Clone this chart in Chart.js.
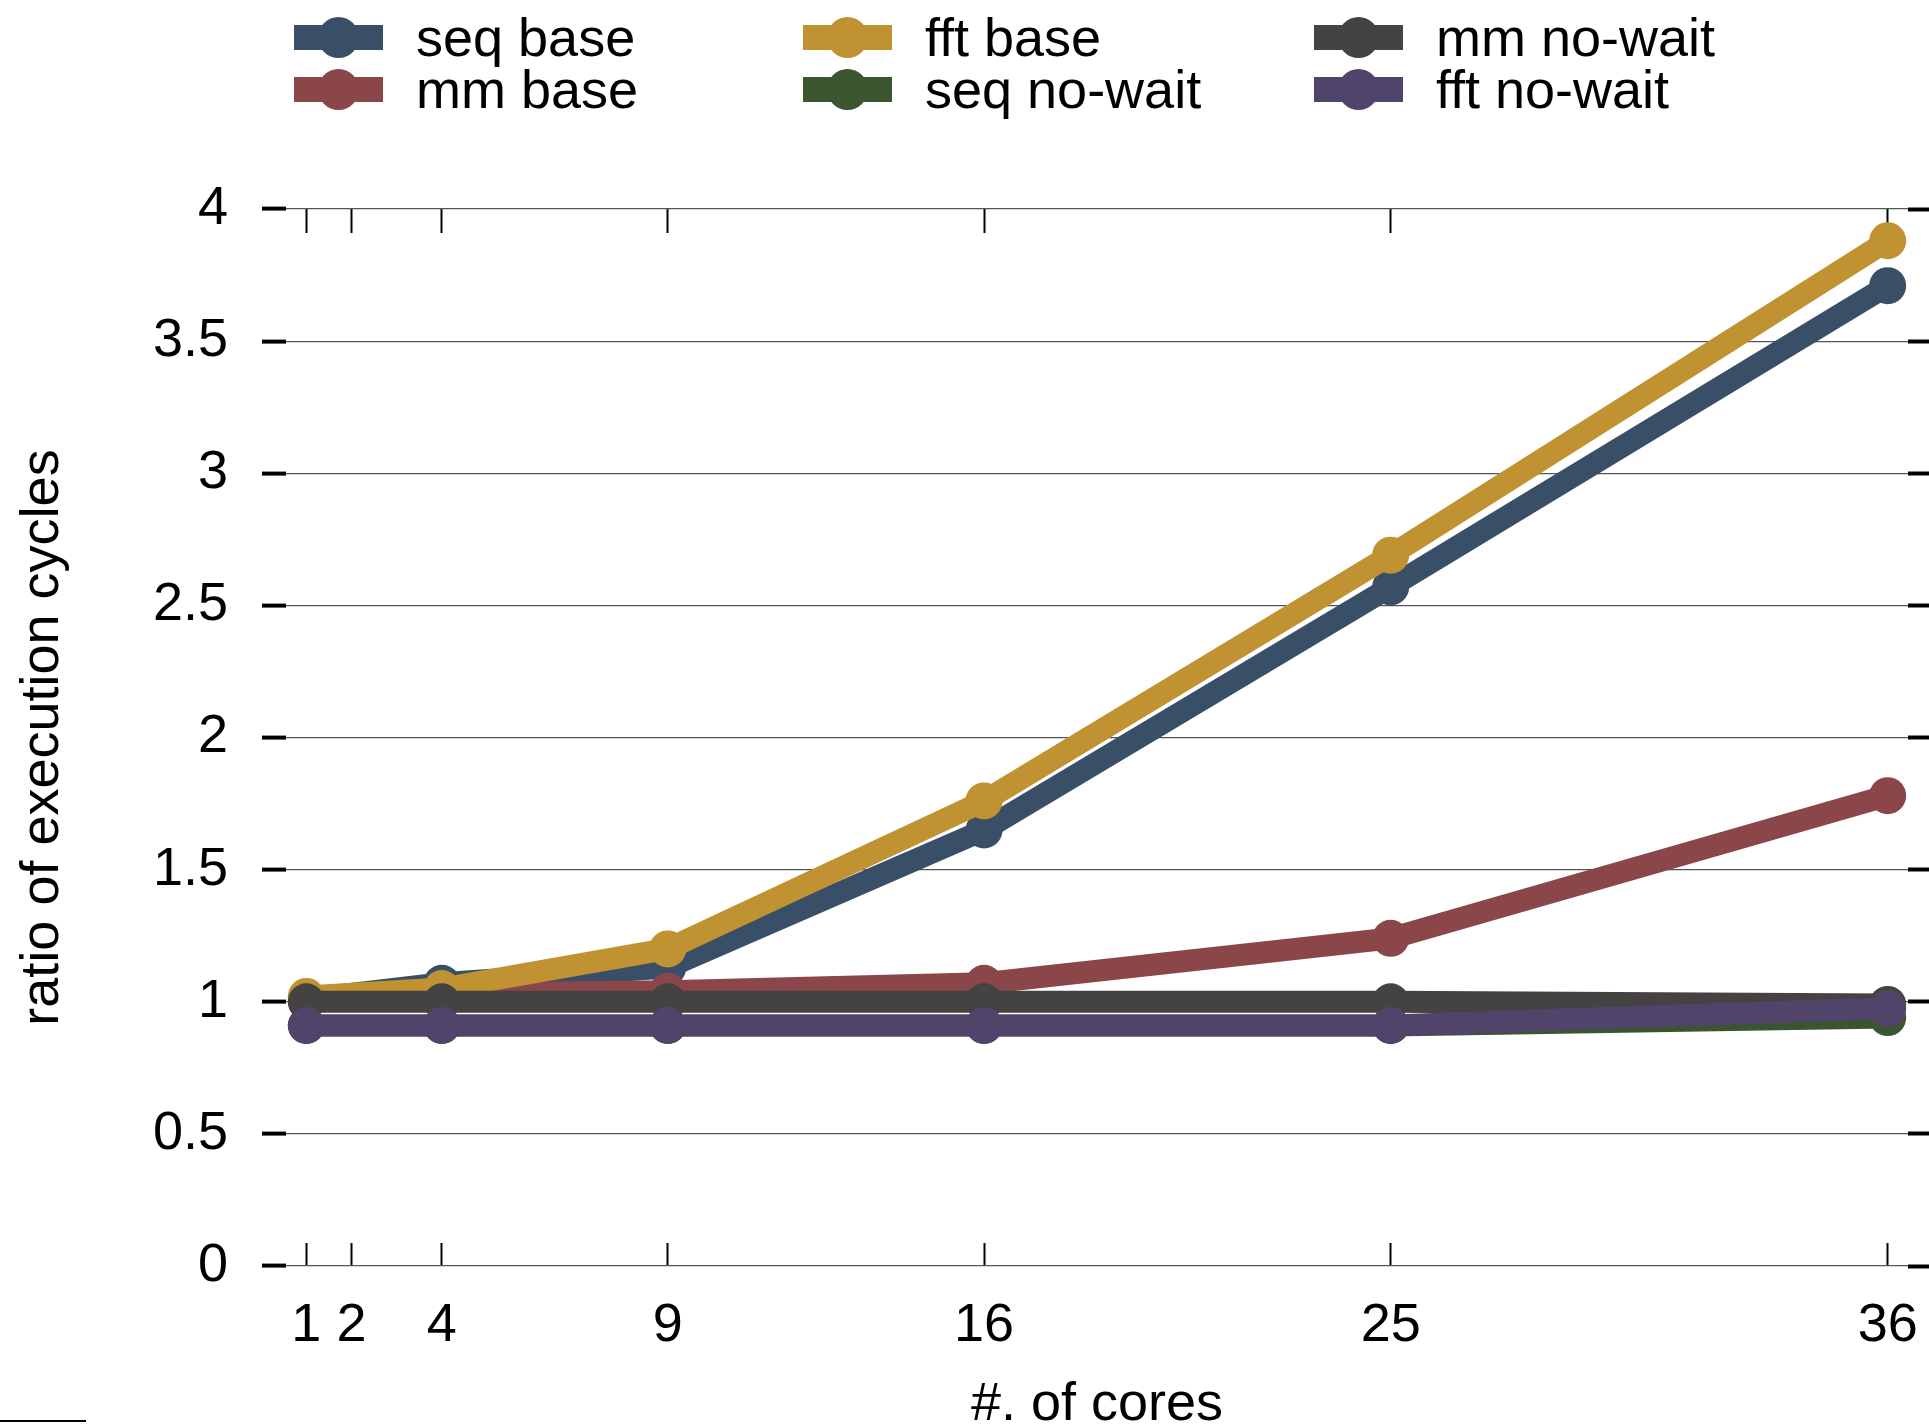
<!DOCTYPE html>
<html>
<head>
<meta charset="utf-8">
<script src="https://cdn.jsdelivr.net/npm/chart.js@4.4.1/dist/chart.umd.min.js"></script>
<style>
  html, body { margin: 0; padding: 0; background: #fff; overflow: hidden; }
  #wrap { position: relative; width: 1929px; height: 1424px; }
  #legend { position: absolute; left: 0; top: 0; width: 1929px; height: 120px;
            font-family: "Liberation Sans", Arial, sans-serif; font-size: 54px; color: #000; }
  .item { position: absolute; display: flex; align-items: center; height: 52px; }
  .sym { position: relative; width: 89px; height: 25px; flex: none; }
  .sym .bar { position: absolute; left: 0; top: 0; width: 89px; height: 25px; }
  .sym .dot { position: absolute; left: 24px; top: -8px; width: 41px; height: 41px; border-radius: 50%; }
  .lbl { margin-left: 33px; white-space: nowrap; position: relative; top: 0px; }
  #corner { position: absolute; left: 0; top: 1420px; width: 86px; height: 2px; background: #000; }
</style>
</head>
<body>
<div id="wrap">
  <canvas id="chart"></canvas>
  <div id="legend"></div>
  <div id="corner"></div>
</div>
<script>
// ─── Data ────────────────────────────────────────────────────────────
const coreCounts = [1, 4, 9, 16, 25, 36];
const coreTicks = [1, 2, 4, 9, 16, 25, 36];

const seriesNames = ["seq base", "mm base", "fft base", "seq no-wait", "mm no-wait", "fft no-wait"];
const seriesColors = ["#394f68", "#8b4649", "#c09231", "#3a5530", "#454341", "#51446a"];

const seqBase    = [1.01, 1.07, 1.13, 1.65, 2.57, 3.71];
const mmBase     = [1.00, 1.03, 1.04, 1.07, 1.24, 1.78];
const fftBase    = [1.02, 1.05, 1.20, 1.76, 2.69, 3.88];
const seqNoWait  = [0.91, 0.91, 0.91, 0.91, 0.91, 0.94];
const mmNoWait   = [1.00, 1.00, 1.00, 1.00, 1.00, 0.99];
const fftNoWait  = [0.91, 0.91, 0.91, 0.91, 0.91, 0.975];

const seriesValues = [seqBase, mmBase, fftBase, seqNoWait, mmNoWait, fftNoWait];

// ─── Legend (3 columns, filled column by column) ─────────────────────
const legendCols = [294, 803, 1314];
const legendRows = [11, 63];
const legendEl = document.getElementById("legend");
seriesNames.forEach((name, i) => {
  const item = document.createElement("div");
  item.className = "item";
  item.style.left = legendCols[Math.floor(i / 2)] + "px";
  item.style.top = legendRows[i % 2] + "px";
  item.innerHTML =
    `<span class="sym"><span class="bar" style="background:${seriesColors[i]}"></span>` +
    `<span class="dot" style="background:${seriesColors[i]}"></span></span>` +
    `<span class="lbl">${name}</span>`;
  legendEl.appendChild(item);
});

// ─── Chart ───────────────────────────────────────────────────────────
Chart.defaults.font.family = '"Liberation Sans", Arial, sans-serif';
Chart.defaults.color = "#000";

const bigFont = { size: 54 };
const setCoreTicks = (scale) => { scale.ticks = coreTicks.map((v) => ({ value: v })); };
const noSidePadding = (s) => { s.paddingLeft = 0; s.paddingRight = 0; };

const datasets = seriesNames.map((name, i) => ({
  label: name,
  data: coreCounts.map((x, j) => ({ x, y: seriesValues[i][j] })),
  borderColor: seriesColors[i],
  backgroundColor: seriesColors[i],
  pointBackgroundColor: seriesColors[i],
  borderWidth: 22,
  pointRadius: 18.5,
  pointBorderWidth: 0,
  pointHoverRadius: 18.5,
  tension: 0,
  fill: false,
  clip: false,
  order: seriesNames.length - i, // later series drawn on top
}));

new Chart(document.getElementById("chart").getContext("2d"), {
  type: "line",
  data: { datasets },
  options: {
    responsive: true,
    maintainAspectRatio: false,
    animation: false,
    events: [],
    layout: { padding: { top: 209, left: 0, right: 0, bottom: 0 } },
    plugins: { legend: { display: false }, tooltip: { enabled: false } },
    scales: {
      x: {
        type: "linear",
        position: "bottom",
        min: 0.55,
        max: 36.45,
        afterBuildTicks: setCoreTicks,
        afterFit: (s) => { s.height = 158; noSidePadding(s); },
        border: { display: false },
        grid: { drawOnChartArea: false, drawTicks: true, tickLength: -23, tickWidth: 2, tickColor: "#000" },
        ticks: { font: bigFont, padding: 51, maxRotation: 0, autoSkip: false },
        title: {
          display: true,
          text: "#. of cores",
          font: { size: 54, lineHeight: 0.8 },
          padding: { top: 0, bottom: -3 },
        },
      },
      xTop: {
        type: "linear",
        position: "top",
        min: 0.55,
        max: 36.45,
        afterBuildTicks: setCoreTicks,
        afterFit: (s) => { s.height = 0; noSidePadding(s); },
        border: { display: false },
        grid: { drawOnChartArea: false, drawTicks: true, tickLength: -24, tickWidth: 2, tickColor: "#000" },
        ticks: { display: false },
      },
      y: {
        position: "left",
        min: 0,
        max: 4,
        afterFit: (s) => { s.width = 286; },
        border: { display: false },
        grid: { color: "#555", lineWidth: 1.2, tickLength: 24, tickWidth: 4, tickColor: "#000" },
        ticks: { stepSize: 0.5, font: bigFont, padding: 34, callback: (v) => String(v) },
        title: {
          display: true,
          text: "ratio of execution cycles",
          font: bigFont,
          padding: { top: 11, bottom: 0 },
        },
      },
      yRight: {
        position: "right",
        min: 0,
        max: 4,
        afterFit: (s) => { s.width = 21; },
        border: { display: false },
        grid: { drawOnChartArea: false, tickLength: 21, tickWidth: 4, tickColor: "#000" },
        ticks: { display: false, stepSize: 0.5 },
      },
    },
  },
});
</script>
</body>
</html>
